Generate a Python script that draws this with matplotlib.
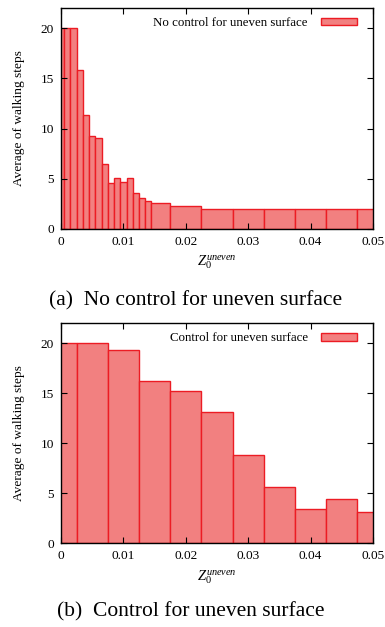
import matplotlib
matplotlib.use("Agg")
import matplotlib.pyplot as plt
import numpy as np

plt.rcParams['font.family'] = ['Liberation Serif', 'DejaVu Serif']
plt.rcParams['mathtext.fontset'] = 'custom'
plt.rcParams['mathtext.rm'] = 'Liberation Serif'
plt.rcParams['mathtext.it'] = 'Liberation Serif:italic'

# data
z_noctrl = [0.000, 0.001, 0.002, 0.003, 0.004, 0.005, 0.006, 0.007, 0.008,
            0.009, 0.010, 0.011, 0.012, 0.013, 0.014, 0.015,
            0.020, 0.025, 0.030, 0.035, 0.040, 0.045, 0.050]
steps_noctrl = [20.0, 20.0, 20.0, 15.8, 11.3, 9.3, 9.1, 6.5, 4.6,
                5.1, 4.7, 5.1, 3.6, 3.1, 2.8, 2.6,
                2.3, 2.0, 2.0, 2.0, 2.0, 2.0, 2.0]

z_ctrl = [0.000, 0.005, 0.010, 0.015, 0.020, 0.025, 0.030, 0.035, 0.040, 0.045, 0.050]
steps_ctrl = [20.0, 20.0, 19.3, 16.2, 15.2, 13.1, 8.8, 5.6, 3.4, 4.4, 3.1]

xticks = [0, 0.01, 0.02, 0.03, 0.04, 0.05]
xtick_labels = ["0", "0.01", "0.02", "0.03", "0.04", "0.05"]
yticks = [0, 5, 10, 15, 20]

fill_c = '#f28080'
edge_c = '#ec1c24'


def box_edges(x):
    # gnuplot-style boxes: each box spans half way to its neighbours
    x = np.asarray(x)
    mid = (x[1:] + x[:-1]) / 2
    edges = np.concatenate([[x[0] - (x[1] - x[0]) / 2], mid, [x[-1] + (x[-1] - x[-2]) / 2]])
    return edges[:-1], np.diff(edges)


def draw(ax, x, y, label):
    left, width = box_edges(x)
    ax.bar(left, y, width=width, align='edge', color=fill_c, edgecolor=edge_c,
           linewidth=1.0, label=label)
    ax.set_xlim(0, 0.05)
    ax.set_ylim(0, 22)
    ax.set_xticks(xticks)
    ax.set_xticklabels(xtick_labels)
    ax.set_yticks(yticks)
    ax.tick_params(direction='in', length=4, width=0.8, top=True, right=True,
                   labelsize=9.6, pad=5)
    for s in ax.spines.values():
        s.set_linewidth(1.0)
    ax.set_ylabel("Average of walking steps", fontsize=9.6)
    ax.yaxis.set_label_coords(-0.115, 0.5)
    ax.set_xlabel(r"$Z_0^{uneven}$", fontsize=10.5, labelpad=4)
    ax.legend(loc='upper right', bbox_to_anchor=(0.978, 1.0), frameon=False,
              markerfirst=False, fontsize=9.3,
              handlelength=2.8, handleheight=0.55, borderaxespad=0.3,
              handletextpad=1.0)


fig = plt.figure(figsize=(3.85, 6.27), dpi=100)
ax1 = fig.add_axes([0.1584, 0.6348, 0.8104, 0.3525])
ax2 = fig.add_axes([0.1584, 0.1335, 0.8104, 0.3509])

draw(ax1, z_noctrl, steps_noctrl, "No control for uneven surface")
draw(ax2, z_ctrl, steps_ctrl, "Control for uneven surface")

fig.text(0.508, 0.521, "(a)  No control for uneven surface", ha='center', va='center', fontsize=15.5)
fig.text(0.495, 0.025, "(b)  Control for uneven surface", ha='center', va='center', fontsize=15.5)

fig.savefig("out.png", dpi=100)
